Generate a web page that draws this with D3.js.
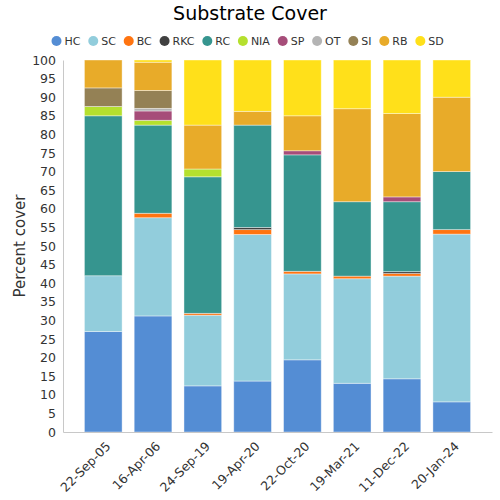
<!DOCTYPE html>
<html><head><meta charset="utf-8">
<script src="https://cdn.jsdelivr.net/npm/d3@7"></script>
<style>body{margin:0;background:#fff;font-family:"DejaVu Sans",sans-serif;}</style>
</head><body><svg id="c" width="500" height="500"></svg>
<script>
const dates = ["22-Sep-05","16-Apr-06","24-Sep-19","19-Apr-20","22-Oct-20","19-Mar-21","11-Dec-22","20-Jan-24"];
const categories = ["HC","SC","BC","RKC","RC","NIA","SP","OT","SI","RB","SD"];
const colors = ["#548DD4","#92CDDC","#FF7410","#404040","#36958F","#B5E02E","#A64D79","#B4B4B4","#948155","#E8AB29","#FFE01A"];
const HC  = [27.0, 31.2, 12.4, 13.7, 19.4, 13.1, 14.3, 8.1];
const SC  = [15.0, 26.4, 19.0, 39.4, 23.1, 28.1, 27.6, 45.1];
const BC  = [0,    1.2,  0.5,  1.3,  0.7,  0.7,  0.7,  1.2];
const RKC = [0,    0,    0,    0.6,  0,    0,    0.5,  0];
const RC  = [43.0, 23.7, 36.7, 27.5, 31.3, 20.0, 18.8, 15.6];
const NIA = [2.5,  1.3,  2.1,  0,    0,    0,    0,    0];
const SP  = [0,    2.5,  0,    0,    1.1,  0,    1.3,  0];
const OT  = [0,    0.7,  0,    0,    0,    0,    0,    0];
const SI  = [5.0,  4.8,  0,    0,    0,    0,    0,    0];
const RB  = [7.5,  7.6,  11.8, 3.7,  9.4,  25.0, 22.4, 20.0];
const SD  = [0,    0.6,  17.5, 13.8, 15.0, 13.1, 14.4, 10.0];
const yTicks = d3.range(0, 101, 5);

const seriesVals = {HC,SC,BC,RKC,RC,NIA,SP,OT,SI,RB,SD};
const rows = dates.map((d,i)=>{const r={date:d}; categories.forEach(c=>r[c]=seriesVals[c][i]); return r;});
const stack = d3.stack().keys(categories)(rows);

const svg = d3.select("#c");
const m = {l:63, r:492, t:60, b:432};
const x = d3.scaleBand().domain(dates).range([m.l, m.r]).paddingInner(0.243).paddingOuter(0.43);
const y = d3.scaleLinear().domain([0,100]).range([m.b, m.t]);
const color = d3.scaleOrdinal().domain(categories).range(colors);

svg.append("text").attr("x",250).attr("y",20).attr("text-anchor","middle")
  .attr("font-size",19).attr("fill","#000").text("Substrate Cover");

// legend
const leg = svg.append("g");
let lx = 56.5;
categories.forEach(c=>{
  const g = leg.append("g").attr("transform",`translate(${lx},41)`);
  g.append("circle").attr("r",5).attr("cx",0).attr("fill",color(c));
  const t = g.append("text").attr("x",8).attr("y",4).attr("font-size",11).attr("fill","#333").text(c);
  lx += 8 + t.node().getComputedTextLength() + 12.8;
});

// bars
svg.append("g").selectAll("g").data(stack).join("g").attr("fill",d=>color(d.key))
  .selectAll("rect").data(d=>d).join("rect")
  .attr("x",d=>x(d.data.date)).attr("width",x.bandwidth())
  .attr("y",d=>y(d[1])).attr("height",d=>Math.max(0,y(d[0])-y(d[1])))
  .attr("stroke","rgba(255,255,255,0.5)").attr("stroke-width",0.8);

// axes
const ya = svg.append("g").attr("transform",`translate(${m.l},0)`)
  .call(d3.axisLeft(y).tickValues(yTicks).tickSize(0).tickPadding(7));
ya.select(".domain").attr("stroke","#c8c8c8").attr("stroke-width",1);
ya.selectAll("text").attr("font-size",12.5).attr("fill","#333").attr("font-family","DejaVu Sans");

const xa = svg.append("g").attr("transform",`translate(0,${m.b})`)
  .call(d3.axisBottom(x).tickSize(0).tickPadding(8));
xa.select(".domain").attr("stroke","#c8c8c8").attr("stroke-width",1);
xa.selectAll("text").attr("font-size",12.5).attr("fill","#333").attr("font-family","DejaVu Sans")
  .attr("text-anchor","end").attr("x",0).attr("y",0).attr("dy","0.35em")
  .attr("transform","translate(5,12) rotate(-45)");

svg.append("text").attr("transform","translate(25,246) rotate(-90)").attr("text-anchor","middle")
  .attr("font-size",15).attr("fill","#333").text("Percent cover");
</script></body></html>
